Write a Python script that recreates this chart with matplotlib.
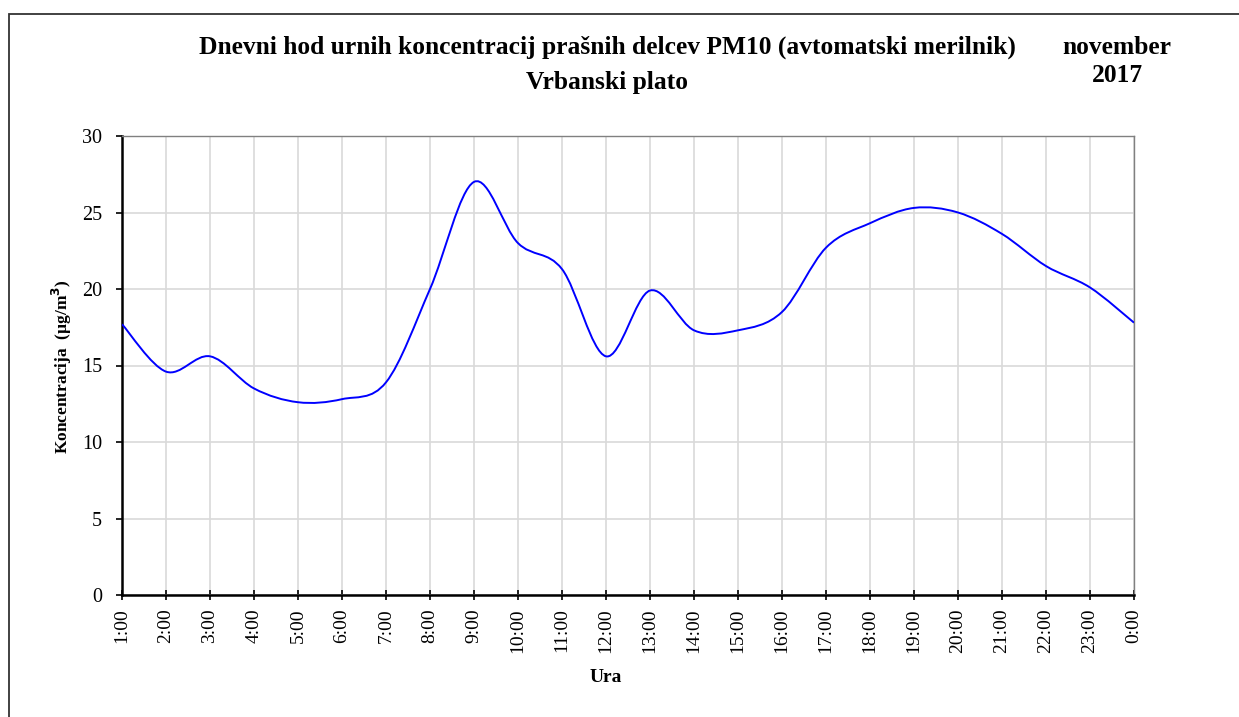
import matplotlib
matplotlib.use("Agg")
import matplotlib.pyplot as plt
import numpy as np
from matplotlib.path import Path
from matplotlib.patches import PathPatch, Rectangle

plt.rcParams["font.family"] = ["Liberation Serif", "DejaVu Serif"]

hours = ["1:00", "2:00", "3:00", "4:00", "5:00", "6:00", "7:00", "8:00",
         "9:00", "10:00", "11:00", "12:00", "13:00", "14:00", "15:00", "16:00",
         "17:00", "18:00", "19:00", "20:00", "21:00", "22:00", "23:00", "0:00"]
pm10 = [17.7, 14.6, 15.6, 13.5, 12.6, 12.8, 13.9, 20.0,
        27.0, 23.0, 21.3, 15.6, 19.9, 17.3, 17.3, 18.5,
        22.7, 24.3, 25.3, 25.0, 23.6, 21.5, 20.1, 17.8]


def smooth_path(x, y):
    # Excel-like smoothed line: Catmull-Rom segments as cubic Bezier curves
    pts = np.column_stack([x, y]).astype(float)
    padded = np.vstack([pts[0], pts, pts[-1]])
    verts = [pts[0]]
    codes = [Path.MOVETO]
    for i in range(len(pts) - 1):
        p0, p1, p2, p3 = padded[i], padded[i + 1], padded[i + 2], padded[i + 3]
        verts += [p1 + (p2 - p0) / 6, p2 - (p3 - p1) / 6, p2]
        codes += [Path.CURVE4] * 3
    return Path(verts, codes)


fig = plt.figure(figsize=(12.39, 7.17), dpi=100)
W, H = 1239, 717
ax = fig.add_axes([122 / W, 1 - 595 / H, (1134 - 122) / W, (595 - 136) / H])

x = np.arange(len(hours))
ax.add_patch(PathPatch(smooth_path(x, pm10), facecolor="none",
                       edgecolor="#0000ff", linewidth=1.4, zorder=3))

ax.set_xlim(0, len(hours) - 1)
ax.set_ylim(0, 30)
ax.set_yticks(range(0, 31, 5))
ax.set_xticks(x)
ax.set_xticklabels(hours, rotation=90, fontsize=14)
ax.tick_params(axis="y", labelsize=14.5, direction="out", length=4.5, width=1.2, pad=10)
ax.tick_params(axis="x", direction="inout", length=7.5, width=1.2, pad=6)
ax.grid(True, color="#d9d9d9", linewidth=1.2)
ax.set_axisbelow(True)
for side in ("left", "bottom"):
    ax.spines[side].set_color("black")
    ax.spines[side].set_linewidth(1.8)
for side in ("top", "right"):
    ax.spines[side].set_color("#808080")
    ax.spines[side].set_linewidth(1.0)

fig.text(607 / W, 1 - 47 / H, "Dnevni hod urnih koncentracij prašnih delcev PM10 (avtomatski merilnik)",
         ha="center", va="center", fontsize=18.4, fontweight="bold")
fig.text(607 / W, 1 - 82 / H, "Vrbanski plato",
         ha="center", va="center", fontsize=18.4, fontweight="bold")
fig.text(1117 / W, 1 - 47 / H, "november", ha="center", va="center",
         fontsize=18.4, fontweight="bold")
fig.text(1117 / W, 1 - 75 / H, "2017", ha="center", va="center",
         fontsize=18.4, fontweight="bold")
fig.text(62 / W, 1 - 367 / H, r"Koncentracija  (µg/m$^\mathbf{3}$)", rotation=90,
         ha="center", va="center", fontsize=12.5, fontweight="bold")
fig.text(606 / W, 1 - 678 / H, "Ura", ha="center", va="center",
         fontsize=14, fontweight="bold")

fig.patches.append(Rectangle((8.5 / W, -0.1), 1.2, 1.1 - 13.5 / H, transform=fig.transFigure,
                             fill=False, edgecolor="#333333", linewidth=1.3))

fig.savefig("out.png", dpi=100)
